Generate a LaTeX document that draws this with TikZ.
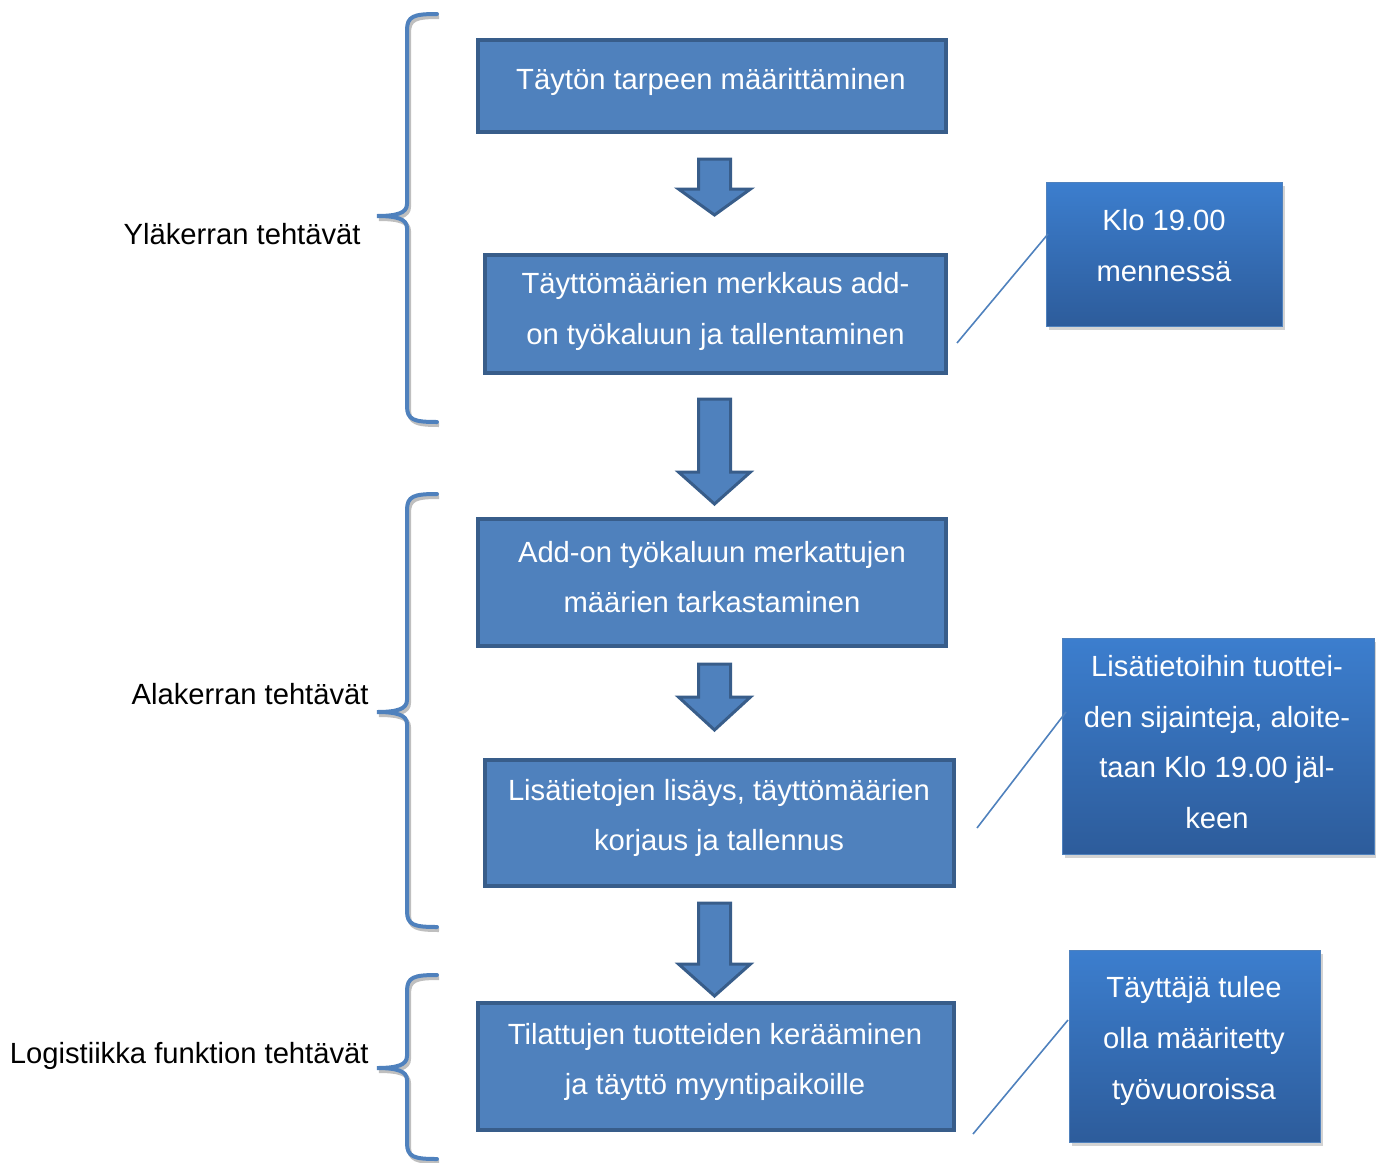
\documentclass[tikz,border=0pt]{standalone}
\usepackage{fontspec}
\setmainfont{Liberation Sans}
\usetikzlibrary{shadows}
\definecolor{boxfill}{RGB}{79,129,189}
\definecolor{boxline}{RGB}{56,93,138}
\definecolor{caltop}{RGB}{60,126,206}
\definecolor{calbot}{RGB}{45,92,155}
\definecolor{bracecol}{RGB}{79,129,189}
\begin{document}
\begin{tikzpicture}[x=0.5pt,y=-0.5pt,
  every node/.style={font=\fontsize{14.6}{25.3}\selectfont},
  procbox/.style={draw=boxline,fill=boxfill,line width=2.2pt,inner sep=0pt},
  wtxt/.style={text=white,align=center,inner sep=0pt},
  btxt/.style={text=black,align=right,inner sep=0pt,anchor=east},
  callout/.style={draw=boxfill,line width=0.5pt,top color=caltop,bottom color=calbot,inner sep=0pt,
    drop shadow={shadow xshift=1.5pt,shadow yshift=-2pt,opacity=0.35}},
  blockarrow/.style={draw=boxline,fill=boxfill,line width=1.5pt,line join=miter},
  bracestyle/.style={draw=bracecol,line width=2pt,line cap=round,
    preaction={draw=black!25,line width=2pt,transform canvas={xshift=1pt,yshift=-1.5pt}}},
  leader/.style={draw=boxfill,line width=0.8pt}]
\useasboundingbox (0,0) rectangle (1376,1162);

% main boxes
\node[procbox,minimum width=234pt,minimum height=46pt] (b1) at (712,86) {};
\node[procbox,minimum width=230.5pt,minimum height=59pt] (b2) at (715.5,314) {};
\node[procbox,minimum width=234pt,minimum height=63.5pt] (b3) at (712,582.5) {};
\node[procbox,minimum width=234.5pt,minimum height=63pt] (b4) at (719.5,823) {};
\node[procbox,minimum width=238pt,minimum height=63.5pt] (b5) at (716,1066.5) {};

\node[wtxt] (t1) at (711,81.5) {Täytön tarpeen määrittäminen};
\node[wtxt] (t2) at (715.5,311.5) {Täyttömäärien merkkaus add-\\on työkaluun ja tallentaminen};
\node[wtxt] (t3) at (712,577) {Add-on työkaluun merkattujen\\määrien tarkastaminen};
\node[wtxt] (t4) at (719,818) {Lisätietojen lisäys, täyttömäärien\\korjaus ja tallennus};
\node[wtxt] (t5) at (715,1062) {Tilattujen tuotteiden kerääminen\\ja täyttö myyntipaikoille};

% block arrows
\foreach \top/\hy/\tip in {159/189/215, 399/472/504, 664/697/730, 903/964/996}{
  \path[blockarrow] (698.5,\top) -- (730.5,\top) -- (730.5,\hy) -- (750.5,\hy) -- (714.5,\tip)
    -- (678.5,\hy) -- (698.5,\hy) -- cycle;
}

% callouts
\node[callout,minimum width=118pt,minimum height=72pt] (c1) at (1164,254) {};
\node[wtxt] (ct1) at (1164,245.5) {Klo 19.00\\mennessä};
\node[callout,minimum width=156pt,minimum height=108pt] (c2) at (1218,746) {};
\node[wtxt] (ct2) at (1217,742) {Lisätietoihin tuottei-\\den sijainteja, aloite-\\taan Klo 19.00 jäl-\\keen};
\node[callout,minimum width=125.5pt,minimum height=96pt] (c3) at (1194.5,1046) {};
\node[wtxt] (ct3) at (1194,1041) {Täyttäjä tulee\\olla määritetty\\työvuoroissa};

% leader lines
\coordinate (l1a) at (957,343);
\coordinate (l1b) at (1048,234);
\coordinate (l2a) at (977,828);
\coordinate (l2b) at (1066,712);
\coordinate (l3a) at (973,1134);
\coordinate (l3b) at (1068,1020);
\draw[leader] (l1a) -- (l1b);
\draw[leader] (l2a) -- (l2b);
\draw[leader] (l3a) -- (l3b);

% braces
\foreach \t/\m/\b in {14/216/422, 494/712/927, 975/1068/1159}{
  \path[bracestyle] (437,\t) .. controls (414,\t) and (407,\t+2) .. (407,\t+16)
    -- (407,\m-12) .. controls (407,\m-3) and (397,\m) .. (377,\m)
    .. controls (397,\m) and (407,\m+3) .. (407,\m+12)
    -- (407,\b-16) .. controls (407,\b-2) and (414,\b) .. (437,\b);
}

% brace labels
\node[btxt] (y1) at (361,234) {Yläkerran tehtävät};
\node[btxt] (y2) at (369,694) {Alakerran tehtävät};
\node[btxt] (y3) at (369,1056) {Logistiikka funktion tehtävät};
\end{tikzpicture}
\end{document}
